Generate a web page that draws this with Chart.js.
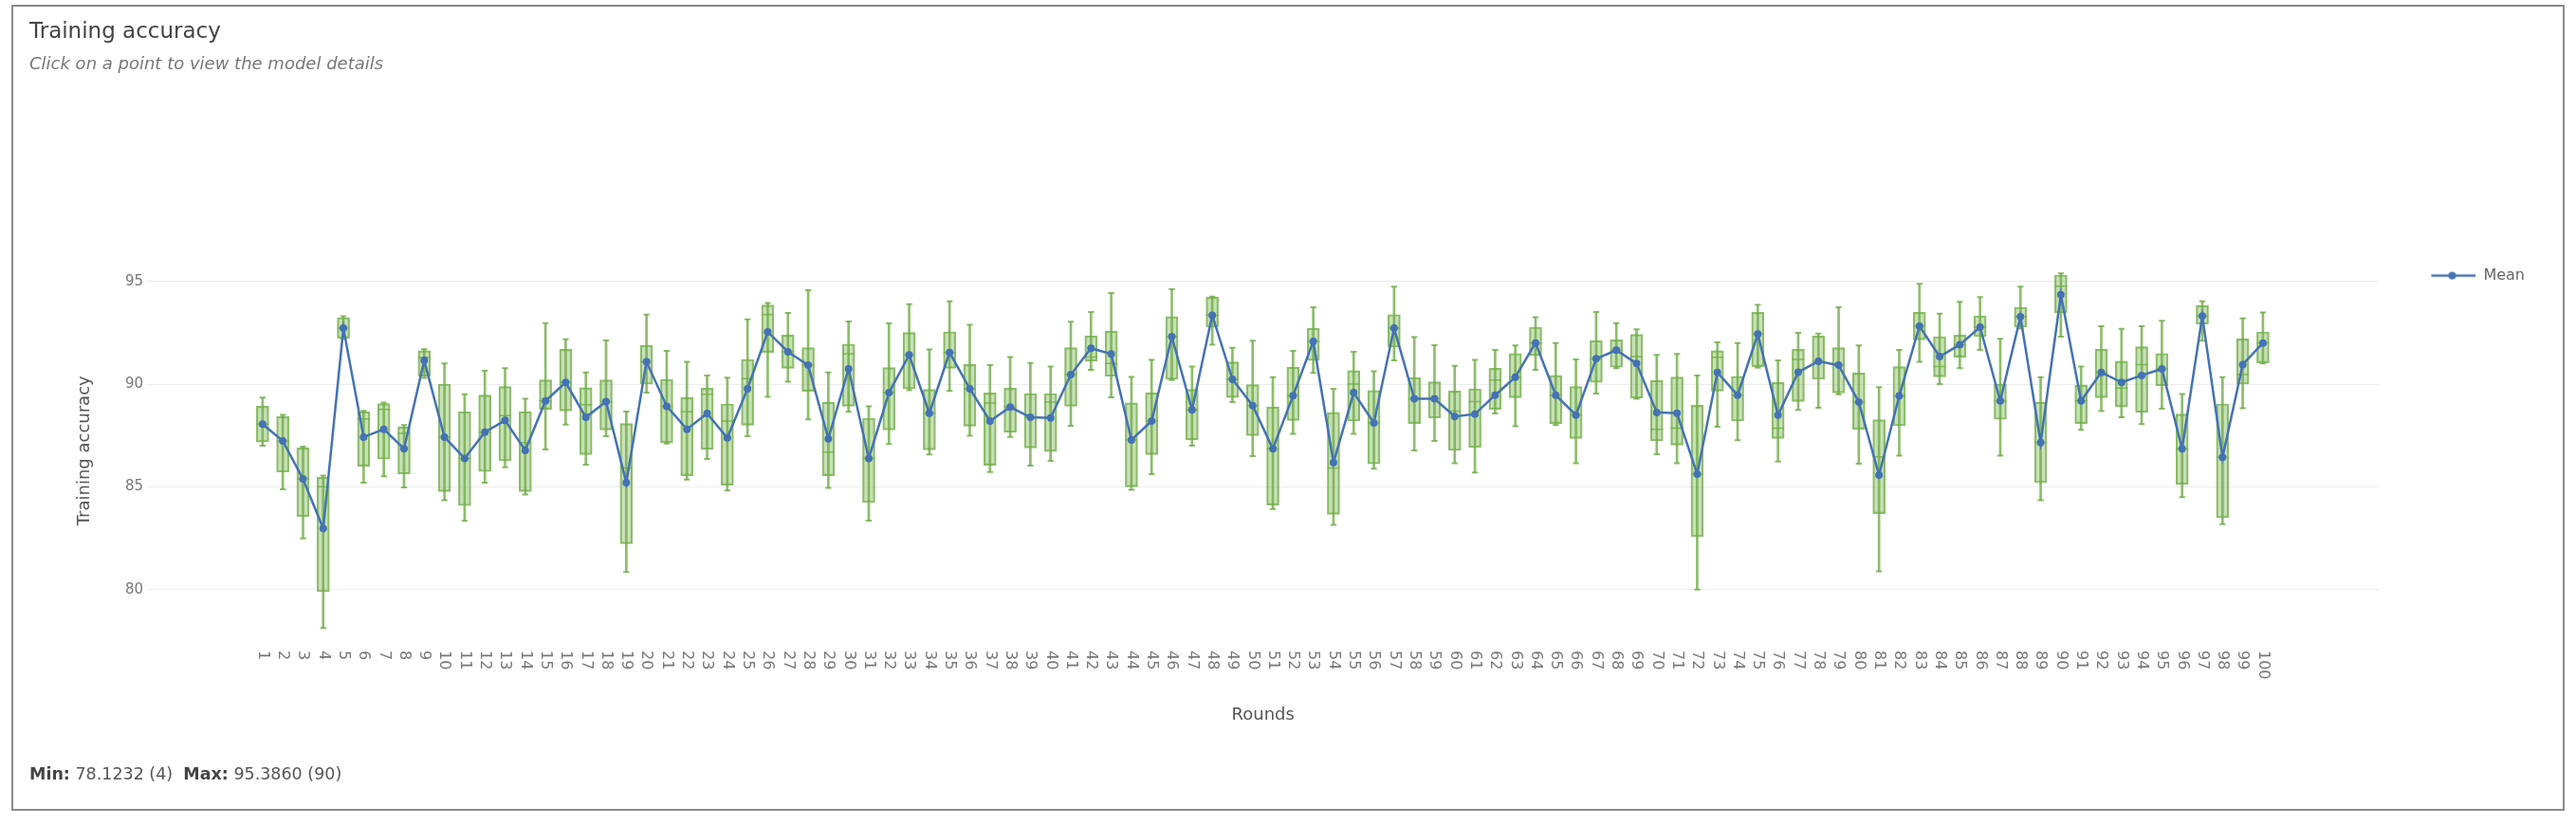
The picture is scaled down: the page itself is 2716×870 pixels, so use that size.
<!DOCTYPE html>
<html>
<head>
<meta charset="utf-8">
<title>Training accuracy</title>
<script src="https://cdn.jsdelivr.net/npm/chart.js@4.4.1/dist/chart.umd.min.js"></script>
<style>
    html, body { margin: 0; padding: 0; background: #fff; }
    body { width: 2716px; height: 870px; position: relative; overflow: hidden; font-family: "DejaVu Sans", sans-serif; }
    #card { position: absolute; left: 12px; top: 5px; width: 2688px; height: 846px; border: 2px solid #8a8a8a; }
    #chart { position: absolute; left: 0; top: 0; }
    #stats { position: absolute; left: 31px; top: 806px; font-size: 17.5px; color: #555; white-space: pre; }
    #stats b { color: #444; }
</style>
</head>
<body>
<div id="card"></div>
<canvas id="chart" width="2716" height="870"></canvas>
<div id="stats"><b>Min:</b> 78.1232 (4)  <b>Max:</b> 95.3860 (90)</div>
<script>
// Rondas (eje x)
const rounds = [
    1, 2, 3, 4, 5, 6, 7, 8, 9, 10, 11, 12, 13, 14, 15, 16, 17, 18, 19, 20,
    21, 22, 23, 24, 25, 26, 27, 28, 29, 30, 31, 32, 33, 34, 35, 36, 37, 38, 39, 40,
    41, 42, 43, 44, 45, 46, 47, 48, 49, 50, 51, 52, 53, 54, 55, 56, 57, 58, 59, 60,
    61, 62, 63, 64, 65, 66, 67, 68, 69, 70, 71, 72, 73, 74, 75, 76, 77, 78, 79, 80,
    81, 82, 83, 84, 85, 86, 87, 88, 89, 90, 91, 92, 93, 94, 95, 96, 97, 98, 99, 100
];

// Bigotes inferiores
const minVals = [
    87.00, 84.88, 82.49, 78.12, 92.20, 85.20, 85.51, 84.97, 90.30, 84.35,
    83.34, 85.20, 85.95, 84.62, 86.82, 88.03, 86.08, 87.46, 80.85, 89.58,
    87.10, 85.35, 86.35, 84.82, 87.46, 89.38, 90.11, 88.28, 84.95, 88.65,
    83.35, 87.08, 89.70, 86.57, 89.66, 87.49, 85.72, 87.43, 86.03, 86.26,
    87.97, 90.69, 89.35, 84.85, 85.62, 90.20, 87.00, 91.92, 89.12, 86.49,
    83.92, 87.58, 90.54, 83.15, 87.58, 85.88, 91.15, 86.77, 87.23, 86.15,
    85.69, 88.57, 87.95, 90.69, 88.00, 86.15, 89.54, 90.77, 89.28, 86.58,
    86.15, 80.00, 87.92, 87.26, 90.80, 86.23, 88.74, 88.85, 89.50, 86.12,
    80.88, 86.51, 91.08, 90.00, 90.77, 91.66, 86.51, 92.70, 84.35, 92.31,
    87.77, 88.69, 88.38, 88.05, 88.80, 84.49, 92.11, 83.18, 88.82, 91.00
];

// Primer cuartil (base de la caja)
const q1Vals = [
    87.18, 85.72, 83.54, 79.89, 92.23, 86.00, 86.34, 85.62, 90.38, 84.77,
    84.08, 85.74, 86.26, 84.77, 88.77, 88.69, 86.57, 87.77, 82.23, 90.00,
    87.15, 85.54, 86.82, 85.08, 88.00, 91.54, 90.77, 89.65, 85.54, 88.92,
    84.23, 87.77, 89.77, 86.80, 90.77, 87.95, 86.05, 87.65, 86.89, 86.72,
    88.92, 91.11, 90.38, 85.00, 86.57, 90.23, 87.28, 92.77, 89.35, 87.49,
    84.11, 88.23, 91.15, 83.66, 88.20, 86.11, 91.80, 88.08, 88.35, 86.77,
    86.92, 88.77, 89.34, 91.38, 88.08, 87.35, 90.08, 90.82, 89.31, 87.23,
    87.03, 82.57, 89.66, 88.20, 90.85, 87.35, 89.15, 90.23, 89.57, 87.80,
    83.69, 87.97, 92.15, 90.35, 91.31, 92.31, 88.28, 92.77, 85.20, 93.46,
    88.08, 89.34, 88.89, 88.62, 89.92, 85.12, 92.92, 83.49, 90.00, 91.03
];

// Mediana
const medianVals = [
    88.05, 87.23, 85.38, 85.00, 92.72, 88.30, 88.77, 87.60, 91.30, 87.42,
    86.38, 87.66, 88.46, 87.15, 89.18, 90.08, 89.00, 89.15, 85.92, 91.08,
    88.92, 88.65, 89.50, 88.20, 90.26, 93.38, 91.57, 90.92, 86.69, 91.46,
    86.38, 89.58, 91.42, 88.58, 91.54, 89.77, 89.08, 88.88, 88.38, 89.12,
    90.46, 91.31, 91.00, 87.28, 88.20, 92.31, 88.74, 93.35, 90.23, 88.95,
    86.85, 89.43, 92.08, 85.92, 90.00, 88.11, 92.72, 89.28, 89.28, 88.69,
    89.15, 90.20, 90.34, 92.00, 89.46, 88.49, 91.23, 91.65, 91.34, 87.80,
    87.85, 85.62, 91.30, 89.46, 92.43, 87.85, 91.20, 91.11, 90.92, 89.12,
    86.46, 89.42, 92.82, 90.85, 91.92, 92.77, 89.18, 93.28, 87.15, 94.77,
    89.18, 90.57, 89.80, 90.95, 90.74, 86.85, 93.31, 86.43, 90.46, 92.00
];

// Tercer cuartil (tope de la caja)
const q3Vals = [
    88.92, 88.42, 86.89, 85.46, 93.23, 88.65, 89.05, 87.92, 91.62, 90.00,
    88.65, 89.46, 89.88, 88.65, 90.20, 91.69, 89.82, 90.20, 88.08, 91.88,
    90.23, 89.35, 89.80, 89.03, 91.20, 93.85, 92.38, 91.77, 89.12, 91.95,
    88.34, 90.80, 92.51, 89.74, 92.54, 90.95, 89.57, 89.80, 89.54, 89.54,
    91.77, 92.35, 92.58, 89.08, 89.58, 93.28, 89.74, 94.23, 91.08, 89.97,
    88.88, 90.82, 92.72, 88.62, 90.65, 89.69, 93.38, 90.31, 90.11, 89.66,
    89.77, 90.77, 91.49, 92.77, 90.42, 89.88, 92.12, 92.15, 92.42, 90.18,
    90.34, 88.97, 91.62, 90.38, 93.49, 90.08, 91.69, 92.34, 91.77, 90.54,
    88.26, 90.85, 93.49, 92.31, 92.38, 93.31, 90.00, 93.74, 89.12, 95.31,
    89.95, 91.69, 91.11, 91.82, 91.49, 88.54, 93.82, 89.03, 92.20, 92.54
];

// Bigotes superiores
const maxVals = [
    89.34, 88.50, 86.95, 85.55, 93.30, 88.70, 89.10, 88.00, 91.70, 91.00,
    89.50, 90.65, 90.77, 89.28, 92.97, 92.18, 90.57, 92.12, 88.66, 93.38,
    91.62, 91.08, 90.42, 90.31, 93.15, 93.95, 93.46, 94.57, 90.57, 93.05,
    88.92, 92.95, 93.89, 91.69, 94.03, 92.88, 90.92, 91.31, 91.03, 90.85,
    93.03, 93.51, 94.43, 90.35, 91.18, 94.62, 90.85, 94.26, 91.77, 92.11,
    90.34, 91.62, 93.74, 89.77, 91.57, 90.62, 94.74, 92.28, 91.89, 90.89,
    91.18, 91.66, 91.88, 93.26, 92.00, 91.20, 93.51, 92.97, 92.66, 91.42,
    91.46, 90.42, 92.03, 92.00, 93.85, 91.15, 92.49, 92.46, 93.74, 91.88,
    89.85, 91.66, 94.88, 93.43, 94.00, 94.23, 92.20, 94.74, 90.34, 95.39,
    90.85, 92.82, 92.69, 92.82, 93.08, 89.51, 94.03, 90.34, 93.20, 93.49
];

// Media por ronda
const meanVals = [
    88.05, 87.23, 85.38, 82.97, 92.72, 87.42, 87.80, 86.85, 91.15, 87.42,
    86.38, 87.66, 88.23, 86.77, 89.18, 90.08, 88.38, 89.15, 85.20, 91.08,
    88.92, 87.80, 88.57, 87.38, 89.77, 92.54, 91.57, 90.92, 87.34, 90.74,
    86.38, 89.58, 91.42, 88.58, 91.54, 89.77, 88.20, 88.88, 88.38, 88.35,
    90.46, 91.74, 91.46, 87.28, 88.20, 92.31, 88.74, 93.35, 90.23, 88.95,
    86.85, 89.43, 92.08, 86.18, 89.58, 88.11, 92.72, 89.28, 89.28, 88.42,
    88.54, 89.46, 90.34, 92.00, 89.46, 88.49, 91.23, 91.65, 91.00, 88.62,
    88.58, 85.62, 90.57, 89.46, 92.43, 88.49, 90.58, 91.11, 90.92, 89.12,
    85.57, 89.42, 92.82, 91.34, 91.92, 92.77, 89.18, 93.28, 87.15, 94.35,
    89.18, 90.57, 90.08, 90.42, 90.74, 86.85, 93.31, 86.43, 90.95, 92.00
];

// Marcas del eje y
const yTicks = [80, 85, 90, 95];

Chart.defaults.font.family = '"DejaVu Sans", sans-serif';

const green = 'rgba(112, 173, 71, 0.8)';
const greenFill = 'rgba(112, 173, 71, 0.38)';
const blue = '#4472b4';

// Icono de la leyenda: línea con punto
const legendIcon = document.createElement('canvas');
legendIcon.width = 89;
legendIcon.height = 12;
(function () {
    const c = legendIcon.getContext('2d');
    c.strokeStyle = blue;
    c.lineWidth = 2.5;
    c.beginPath();
    c.moveTo(42, 6);
    c.lineTo(89, 6);
    c.stroke();
    c.fillStyle = blue;
    c.beginPath();
    c.arc(64, 6, 4, 0, Math.PI * 2);
    c.fill();
})();

// Etiquetas del eje x giradas en sentido horario
const roundLabels = {
    id: 'roundLabels',
    afterDraw(chart) {
        const { ctx, chartArea } = chart;
        const xScale = chart.scales.x;
        ctx.save();
        ctx.font = '16px "DejaVu Sans"';
        ctx.fillStyle = '#777';
        ctx.textAlign = 'left';
        ctx.textBaseline = 'middle';
        rounds.forEach(r => {
            ctx.save();
            ctx.translate(xScale.getPixelForValue(r), chartArea.bottom + 5);
            ctx.rotate(Math.PI / 2);
            ctx.fillText(String(r), 0, 0);
            ctx.restore();
        });
        ctx.restore();
    }
};

const ctx = document.getElementById('chart').getContext('2d');
new Chart(ctx, {
    type: 'bar',
    data: {
        datasets: [
            {
                label: 'Whiskers',
                data: rounds.map((r, i) => ({ x: r, y: [minVals[i], maxVals[i]] })),
                backgroundColor: green,
                barThickness: 2,
                grouped: false,
                order: 4
            },
            {
                label: 'Box',
                data: rounds.map((r, i) => ({ x: r, y: [q1Vals[i], q3Vals[i]] })),
                backgroundColor: greenFill,
                borderColor: green,
                borderWidth: 1.5,
                borderSkipped: false,
                barThickness: 13,
                grouped: false,
                order: 3
            },
            {
                type: 'scatter',
                label: 'Caps',
                data: rounds.flatMap((r, i) => [{ x: r, y: minVals[i] }, { x: r, y: maxVals[i] }]),
                pointStyle: 'line',
                pointRadius: 3.2,
                borderColor: green,
                pointBorderWidth: 2,
                order: 2
            },
            {
                type: 'scatter',
                label: 'Median',
                data: rounds.map((r, i) => ({ x: r, y: medianVals[i] })),
                pointStyle: 'line',
                pointRadius: 6.5,
                borderColor: green,
                pointBorderWidth: 1.5,
                order: 2
            },
            {
                type: 'line',
                label: 'Mean',
                data: rounds.map((r, i) => ({ x: r, y: meanVals[i] })),
                borderColor: blue,
                backgroundColor: blue,
                borderWidth: 2.5,
                pointRadius: 4,
                pointBackgroundColor: blue,
                pointBorderWidth: 0,
                tension: 0,
                order: 1
            }
        ]
    },
    options: {
        responsive: false,
        devicePixelRatio: 1,
        animation: false,
        layout: {
            padding: { left: 31, right: 44, top: 0, bottom: 80 }
        },
        plugins: {
            title: {
                display: true,
                text: 'Training accuracy',
                align: 'start',
                color: '#444',
                font: { size: 23, weight: 'normal' },
                padding: { top: 20, bottom: 0 }
            },
            subtitle: {
                display: true,
                text: 'Click on a point to view the model details',
                align: 'start',
                color: '#777',
                font: { size: 18, style: 'italic' },
                padding: { top: 10, bottom: 190.4 }
            },
            legend: {
                position: 'right',
                align: 'start',
                fullSize: false,
                labels: {
                    usePointStyle: true,
                    pointStyle: legendIcon,
                    pointStyleWidth: 89,
                    padding: 13,
                    color: '#666',
                    font: { size: 16 },
                    filter: item => item.text === 'Mean'
                }
            },
            tooltip: { enabled: false }
        },
        scales: {
            x: {
                type: 'linear',
                min: -4.72,
                max: 105.75,
                offset: false,
                afterFit: s => { s.height = 109; },
                grid: { display: false },
                border: { display: false },
                ticks: { display: false },
                title: {
                    display: true,
                    text: 'Rounds',
                    color: '#555',
                    font: { size: 18 },
                    padding: { top: 0, bottom: 25 }
                }
            },
            y: {
                min: 77.26,
                max: 96.25,
                afterFit: s => { s.width = 124; },
                afterBuildTicks: s => { s.ticks = yTicks.map(v => ({ value: v })); },
                border: { display: false },
                grid: { color: '#ececec', drawTicks: false },
                ticks: { padding: 4, color: '#777', font: { size: 15 } },
                title: {
                    display: true,
                    text: 'Training accuracy',
                    color: '#555',
                    font: { size: 18 },
                    padding: { top: 48, bottom: 0 }
                }
            }
        }
    },
    plugins: [roundLabels]
});
</script>
</body>
</html>
